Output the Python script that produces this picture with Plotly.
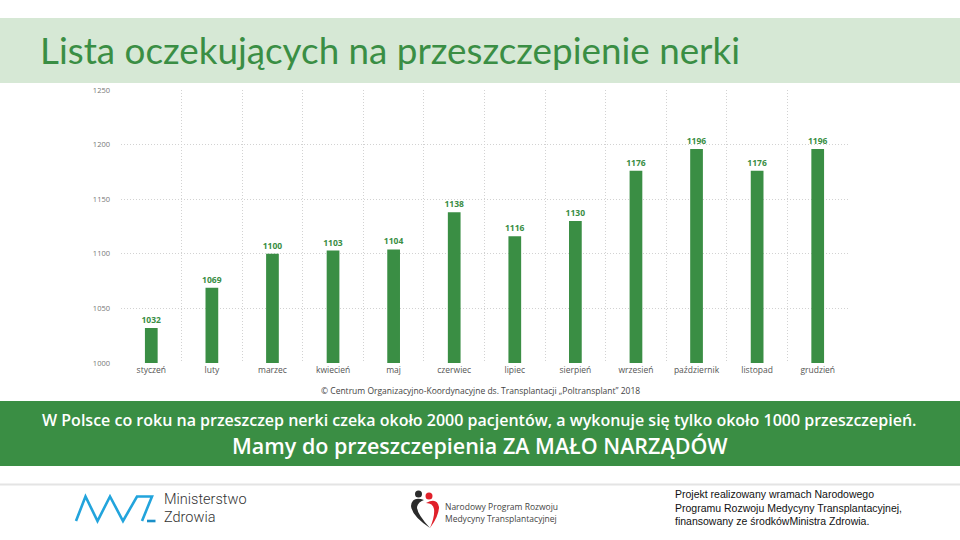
import plotly.graph_objects as go

months = ["styczeń", "luty", "marzec", "kwiecień", "maj", "czerwiec",
          "lipiec", "sierpień", "wrzesień", "październik", "listopad", "grudzień"]
waiting = [1032, 1069, 1100, 1103, 1104, 1138, 1116, 1130, 1176, 1196, 1176, 1196]
y_ticks = [1000, 1050, 1100, 1150, 1200, 1250]

W, H = 960, 540
L, R, T, B = 121, 112, 90, 177
PW, PH = W - L - R, H - T - B

GREEN = "#3a8e44"
BAND = "#d6e8d5"


def px(x):
    return (x - L) / PW


def py(y):
    return (H - B - y) / PH


fig = go.Figure(go.Bar(
    x=months, y=waiting, width=0.21,
    marker=dict(color=GREEN, line=dict(width=0)),
    text=[str(v) for v in waiting], textposition="outside", constraintext="none",
    textfont=dict(family="Open Sans", size=8.5, color=GREEN, weight="bold"),
    cliponaxis=False, hoverinfo="skip",
))

shapes = []
# title band
shapes.append(dict(type="rect", xref="paper", yref="paper", x0=px(0), x1=px(960),
                   y0=py(83), y1=py(18), fillcolor=BAND, line=dict(width=0), layer="below"))
# green message band
shapes.append(dict(type="rect", xref="paper", yref="paper", x0=px(0), x1=px(960),
                   y0=py(466), y1=py(401), fillcolor=GREEN, line=dict(width=0), layer="below"))
# separator
shapes.append(dict(type="line", xref="paper", yref="paper", x0=px(0), x1=px(960),
                   y0=py(484.5), y1=py(484.5), line=dict(color="#e4e4e4", width=2)))


def path(points):
    return "M " + " L ".join(f"{px(a):.5f},{py(b):.5f}" for a, b in points)


# Ministerstwo Zdrowia logo
BLUE = "#22a4dc"
shapes.append(dict(type="path", xref="paper", yref="paper",
                   path=path([(76, 521), (85.5, 496.5), (97.5, 521), (110, 496.5), (123, 521),
                              (137, 496.5), (152, 496.5), (142, 521)]),
                   line=dict(color=BLUE, width=2.6)))
shapes.append(dict(type="line", xref="paper", yref="paper", x0=px(147), x1=px(155.5),
                   y0=py(521), y1=py(521), line=dict(color="#1a8fc8", width=2.6)))

# heart logo
shapes.append(dict(type="circle", xref="paper", yref="paper", x0=px(415), x1=px(422),
                   y0=py(497.5), y1=py(490.5), fillcolor="#2b2b2b", line=dict(width=0)))
shapes.append(dict(type="circle", xref="paper", yref="paper", x0=px(425.5), x1=px(432.5),
                   y0=py(499.5), y1=py(492.5), fillcolor="#e0202a", line=dict(width=0)))
shapes.append(dict(type="path", xref="paper", yref="paper",
                   path=f"M {px(424):.5f},{py(500):.5f} Q {px(412):.5f},{py(496):.5f} {px(411):.5f},{py(506):.5f} "
                        f"Q {px(412):.5f},{py(516):.5f} {px(430):.5f},{py(528):.5f} "
                        f"Q {px(417):.5f},{py(514):.5f} {px(417):.5f},{py(507):.5f} "
                        f"Q {px(418):.5f},{py(502):.5f} {px(424):.5f},{py(500):.5f} Z",
                   fillcolor="#2b2b2b", line=dict(width=0)))
shapes.append(dict(type="path", xref="paper", yref="paper",
                   path=f"M {px(426):.5f},{py(503):.5f} Q {px(437):.5f},{py(497):.5f} {px(439):.5f},{py(507):.5f} "
                        f"Q {px(439):.5f},{py(516):.5f} {px(430):.5f},{py(528):.5f} "
                        f"Q {px(435):.5f},{py(516):.5f} {px(434):.5f},{py(509):.5f} "
                        f"Q {px(433):.5f},{py(503):.5f} {px(426):.5f},{py(503):.5f} Z",
                   fillcolor="#e0202a", line=dict(width=0)))

annotations = []


def note(text, x, y, size, color, family="Open Sans", weight="normal", xanchor="left", yanchor="middle"):
    annotations.append(dict(text=text, x=px(x), y=py(y), xref="paper", yref="paper",
                            showarrow=False, xanchor=xanchor, yanchor=yanchor, align="left",
                            font=dict(family=family, size=size, color=color, weight=weight)))


note("Lista oczekujących na przeszczepienie nerki", 38, 50, 36.8, GREEN, family="Lato")
note("© Centrum Organizacyjno-Koordynacyjne ds. Transplantacji „Poltransplant” 2018",
     480, 390.5, 8.5, "#444444", xanchor="center")
note("W Polsce co roku na przeszczep nerki czeka około 2000 pacjentów, a wykonuje się tylko około 1000 przeszczepień.",
     479, 420, 16, "#ffffff", weight=600, xanchor="center")
note("Mamy do przeszczepienia ZA MAŁO NARZĄDÓW", 480, 445, 21.5, "#ffffff", weight=600, xanchor="center")
note("Ministerstwo", 162, 499, 14.5, "#333333", family="Roboto", weight=300)
note("Zdrowia", 162, 517, 14.5, "#333333", family="Roboto", weight=300)
note("Narodowy Program Rozwoju", 443, 506, 8.5, "#444444", family="Open Sans")
note("Medycyny Transplantacyjnej", 443, 518, 8.5, "#444444", family="Open Sans")
note("Projekt realizowany wramach Narodowego<br>Programu Rozwoju Medycyny Transplantacyjnej,<br>finansowany ze środkówMinistra Zdrowia.",
     673, 508, 10.5, "#111111", family="Liberation Sans")

fig.update_layout(
    width=W, height=H, margin=dict(l=L, r=R, t=T, b=B),
    paper_bgcolor="white", plot_bgcolor="white",
    showlegend=False, shapes=shapes, annotations=annotations,
    xaxis=dict(type="category", tickson="boundaries", showgrid=True, gridcolor="#d2d2d2",
               griddash="1px,2px", gridwidth=1, ticks="", showline=False, zeroline=False,
               tickfont=dict(family="Open Sans", size=8.5, color="#555555"), fixedrange=True),
    yaxis=dict(range=[1000, 1250], tickvals=y_ticks, showgrid=True, gridcolor="#d2d2d2",
               griddash="1px,2px", gridwidth=1, zeroline=False, showline=False, ticks="",
               ticklabelstandoff=10,
               tickfont=dict(family="Open Sans", size=7.5, color="#777777"), fixedrange=True),
)

fig.write_html("out.html", config={"displayModeBar": False},
               post_script="document.body.style.margin='0px';document.body.style.overflow='hidden';")
